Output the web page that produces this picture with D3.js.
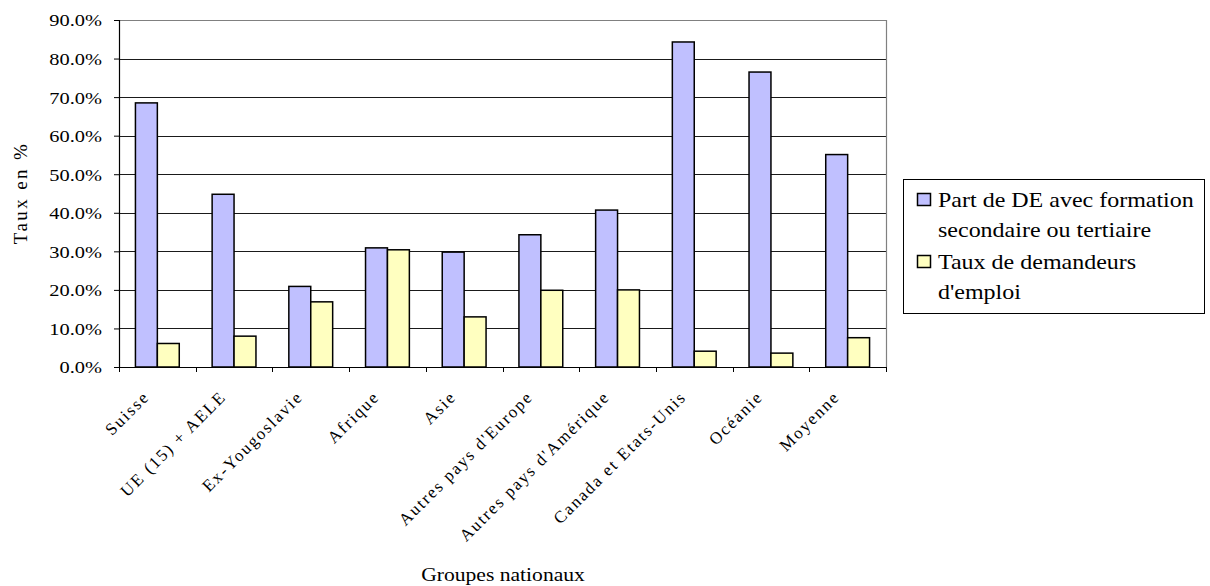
<!DOCTYPE html>
<html>
<head>
<meta charset="utf-8">
<script src="https://cdn.jsdelivr.net/npm/d3@7"></script>
<style>
  html, body { margin: 0; padding: 0; background: #fff; }
  svg { display: block; }
  svg text, svg tspan { font-family: "Liberation Serif", "Times New Roman", serif; fill: #000; }
</style>
</head>
<body>
<svg id="chart" width="1210" height="586"></svg>
<script>
// Nationality groups shown along the x axis
const categories = [
  "Suisse", "UE (15) + AELE", "Ex-Yougoslavie", "Afrique", "Asie",
  "Autres pays d'Europe", "Autres pays d'Amérique", "Canada et Etats-Unis",
  "Océanie", "Moyenne"
];

// Share of job seekers with secondary or tertiary education
const partFormation = [0.685, 0.448, 0.209, 0.309, 0.298, 0.343, 0.407, 0.843, 0.765, 0.551];

// Job seeker rate
const tauxDemandeurs = [0.061, 0.080, 0.169, 0.304, 0.130, 0.199, 0.200, 0.041, 0.036, 0.076];

const seriesKeys = ["partFormation", "tauxDemandeurs"];
const seriesColors = ["#C0C0FF", "#FFFFC0"];
const legendLines = [
  ["Part de DE avec formation", "secondaire ou tertiaire"],
  ["Taux de demandeurs", "d'emploi"]
];

const yTickValues = [0, 0.1, 0.2, 0.3, 0.4, 0.5, 0.6, 0.7, 0.8, 0.9];
const yTitle = "Taux en %";
const xTitle = "Groupes nationaux";

const SERIF = "Liberation Serif";
const WIDEN = 1.2; // horizontal glyph widening used for the upright labels

const rows = categories.map((c, i) => ({
  category: c,
  partFormation: partFormation[i],
  tauxDemandeurs: tauxDemandeurs[i]
}));

const plot = { left: 119, right: 886, top: 20, bottom: 367 };
const svg = d3.select("#chart");

const x = d3.scaleBand().domain(categories).range([plot.left, plot.right]).paddingInner(0).paddingOuter(0);
const xSub = d3.scaleBand().domain(seriesKeys).range([0, x.bandwidth()]).paddingInner(0).paddingOuter(0.75);
const y = d3.scaleLinear().domain([0, 0.9]).range([plot.bottom, plot.top]);

// Horizontal gridlines
svg.append("g")
  .selectAll("line")
  .data(yTickValues.filter(v => v > 0 && v < 0.9))
  .join("line")
  .attr("x1", plot.left).attr("x2", plot.right)
  .attr("y1", d => Math.round(y(d)) + 0.5).attr("y2", d => Math.round(y(d)) + 0.5)
  .attr("stroke", "#1a1a1a").attr("stroke-width", 1);

// Plot frame: top and right edges in grey
svg.append("path")
  .attr("d", `M${plot.left},${plot.top + 0.5}H${plot.right + 0.5}V${plot.bottom}`)
  .attr("fill", "none").attr("stroke", "#808080").attr("stroke-width", 1.2);

// Bars
const groups = svg.append("g")
  .selectAll("g")
  .data(rows)
  .join("g")
  .attr("transform", d => `translate(${x(d.category)},0)`);

groups.selectAll("rect")
  .data(d => seriesKeys.map((k, i) => ({ key: k, value: d[k], color: seriesColors[i] })))
  .join("rect")
  .attr("x", d => xSub(d.key))
  .attr("width", xSub.bandwidth())
  .attr("y", d => y(d.value))
  .attr("height", d => y(0) - y(d.value))
  .attr("fill", d => d.color)
  .attr("stroke", "#000")
  .attr("stroke-width", 1.5);

// Y axis
const yAxis = svg.append("g")
  .attr("transform", `translate(${plot.left},0)`)
  .call(d3.axisLeft(y).tickValues(yTickValues).tickSize(5).tickPadding(12)
    .tickFormat(d3.format(".1%")));
yAxis.attr("font-family", SERIF).attr("font-size", 17);
yAxis.select(".domain").attr("stroke", "#000").attr("stroke-width", 1.2);
yAxis.selectAll(".tick line").attr("stroke", "#000");
yAxis.selectAll(".tick text")
  .attr("font-family", SERIF)
  .attr("x", -17 / WIDEN)
  .attr("transform", `scale(${WIDEN},1)`)
  .attr("dy", "0.35em")
  .attr("fill", "#000");

// X axis: ticks sit on category boundaries
const xAxis = svg.append("g")
  .attr("transform", `translate(0,${plot.bottom})`)
  .call(d3.axisBottom(x).tickSize(0).tickFormat(""));
xAxis.select(".domain").attr("stroke", "#000").attr("stroke-width", 1.2);
xAxis.selectAll(".tick").remove();

const boundaries = categories.map(c => x(c)).concat([plot.right]);
svg.append("g")
  .selectAll("line")
  .data(boundaries)
  .join("line")
  .attr("x1", d => Math.round(d) + 0.5).attr("x2", d => Math.round(d) + 0.5)
  .attr("y1", plot.bottom).attr("y2", plot.bottom + 5)
  .attr("stroke", "#000");

// Rotated category labels
svg.append("g")
  .selectAll("text")
  .data(categories)
  .join("text")
  .attr("transform", d => `translate(${x(d) + x.bandwidth() / 2 - 7},${plot.bottom + 31}) rotate(-45)`)
  .attr("text-anchor", "end")
  .attr("font-family", SERIF)
  .attr("font-size", 17)
  .attr("letter-spacing", "1.8px")
  .text(d => d);

// Axis titles
svg.append("text")
  .attr("transform", `translate(27,193) rotate(-90)`)
  .attr("text-anchor", "middle")
  .attr("font-family", SERIF)
  .attr("font-size", 19)
  .attr("letter-spacing", "2.4px")
  .text(yTitle);

svg.append("text")
  .attr("transform", `translate(503,581) scale(${WIDEN},1)`)
  .attr("text-anchor", "middle")
  .attr("font-family", SERIF)
  .attr("font-size", 18)
  .text(xTitle);

// Legend
const legend = svg.append("g");
legend.append("rect")
  .attr("x", 903.5).attr("y", 179.5).attr("width", 301).attr("height", 134)
  .attr("fill", "#fff").attr("stroke", "#000").attr("stroke-width", 1);

legendLines.forEach((lines, i) => {
  const top = 207 + i * 62;
  legend.append("rect")
    .attr("x", 917.5).attr("y", top - 13.5).attr("width", 13).attr("height", 12)
    .attr("fill", seriesColors[i]).attr("stroke", "#000").attr("stroke-width", 1.5);
  legend.append("text")
    .attr("transform", `translate(938,${top}) scale(${WIDEN},1)`)
    .attr("font-family", SERIF)
    .attr("font-size", 20)
    .selectAll("tspan")
    .data(lines)
    .join("tspan")
    .attr("x", 0)
    .attr("dy", (d, j) => j === 0 ? 0 : 30)
    .text(d => d);
});
</script>
</body>
</html>
